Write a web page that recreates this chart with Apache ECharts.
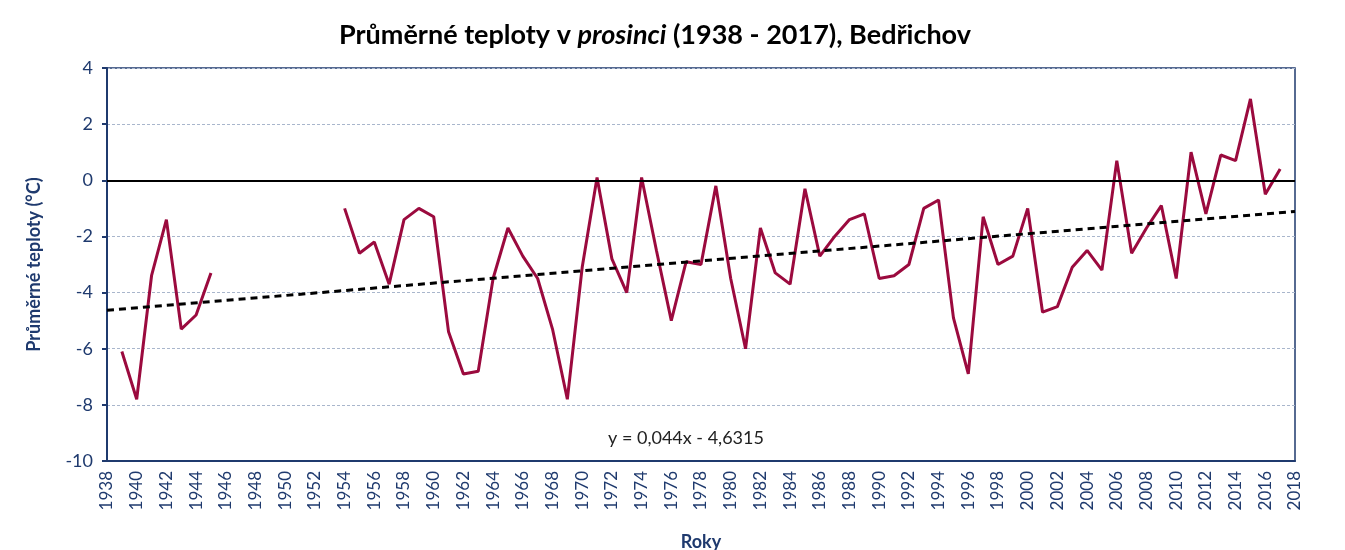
<!DOCTYPE html>
<html>
<head>
<meta charset="utf-8">
<script src="https://cdn.jsdelivr.net/npm/echarts@6/dist/echarts.min.js"></script>
<style>
  html, body { margin: 0; padding: 0; background: #fff; }
  #chart { width: 1345px; height: 550px; }
</style>
</head>
<body>
<div id="chart"></div>
<script>
// roky 1939 - 2017, mezera 1946 - 1953 (null)
const years = [];
for (let y = 1939; y <= 2017; y++) years.push(y);

const temps = [
  -6.1, -7.8, -3.4, -1.4, -5.3, -4.8, -3.3,           // 1939-1945
  null, null, null, null, null, null, null, null,     // 1946-1953
  -1.0, -2.6, -2.2, -3.7, -1.4, -1.0,                 // 1954-1959
  -1.3, -5.4, -6.9, -6.8, -3.5, -1.7, -2.7, -3.5, -5.3, -7.8, // 1960-1969
  -3.1, 0.1, -2.8, -4.0, 0.1, -2.5, -5.0, -2.9, -3.0, -0.2,   // 1970-1979
  -3.5, -6.0, -1.7, -3.3, -3.7, -0.3, -2.7, -2.0, -1.4, -1.2, // 1980-1989
  -3.5, -3.4, -3.0, -1.0, -0.7, -4.9, -6.9, -1.3, -3.0, -2.7, // 1990-1999
  -1.0, -4.7, -4.5, -3.1, -2.5, -3.2, 0.7, -2.6, -1.7, -0.9,  // 2000-2009
  -3.5, 1.0, -1.2, 0.9, 0.7, 2.9, -0.5, 0.4                   // 2010-2017
];

// lineární trend z Excelu: y = 0,044x - 4,6315 (x = rok - 1938)
const trendK = 0.044;
const trendQ = -4.6315;
const xMin = 1938, xMax = 2018;

const navy = '#1F3A6E';
const wine = '#9B0A3E';

const chart = echarts.init(document.getElementById('chart'));

chart.setOption({
  animation: false,
  textStyle: { fontFamily: 'Lato' },
  title: {
    text: '{b|Průměrné teploty v }{i|prosinci}{b| (1938 - 2017), Bedřichov}',
    left: 650,
    textAlign: 'center',
    top: 17,
    textStyle: {
      rich: {
        b: { fontSize: 27, fontWeight: 'bold', color: '#000', fontFamily: 'Lato' },
        i: { fontSize: 27, fontStyle: 'italic', color: '#000', fontFamily: 'Lato' }
      }
    }
  },
  grid: {
    left: 107,
    right: 50,
    top: 68,
    bottom: 89,
    outerBoundsMode: 'none',
    show: true,
    borderColor: navy,
    borderWidth: 1.5
  },
  xAxis: {
    type: 'value',
    min: xMin,
    max: xMax,
    interval: 2,
    name: 'Roky',
    nameLocation: 'middle',
    nameGap: 72,
    nameTextStyle: { color: navy, fontSize: 18, fontWeight: 'bold' },
    axisLine: { show: true, onZero: false, lineStyle: { color: navy, width: 2 } },
    axisTick: { show: false },
    splitLine: { show: false },
    axisLabel: {
      rotate: 90,
      color: navy,
      fontSize: 17,
      margin: 10,
      formatter: v => String(v)
    }
  },
  yAxis: {
    type: 'value',
    min: -10,
    max: 4,
    interval: 2,
    name: 'Průměrné teploty (°C)',
    nameLocation: 'middle',
    nameGap: 64,
    nameTextStyle: { color: navy, fontSize: 18, fontWeight: 'bold' },
    axisLine: { show: true, lineStyle: { color: navy, width: 2 } },
    axisTick: { show: true, inside: false, length: 5, lineStyle: { color: navy, width: 2 } },
    axisLabel: { color: navy, fontSize: 18, margin: 14 },
    splitLine: { show: true, lineStyle: { color: '#A9B6CC', type: [3, 2], width: 1 } }
  },
  series: [
    {
      name: 'teplota',
      type: 'line',
      data: years.map((y, i) => [y, temps[i]]),
      connectNulls: false,
      symbol: 'none',
      lineStyle: { color: wine, width: 3 },
      z: 3,
      markLine: {
        silent: true,
        symbol: 'none',
        label: { show: false },
        lineStyle: { color: '#000', width: 2, type: 'solid' },
        data: [{ yAxis: 0 }]
      }
    },
    {
      name: 'trend',
      type: 'line',
      data: [xMin, xMax].map(x => [x, trendK * (x - xMin) + trendQ]),
      symbol: 'none',
      lineStyle: { color: '#000', width: 3, type: [7, 5] },
      z: 4
    }
  ],
  graphic: [
    {
      type: 'text',
      left: 608,
      top: 429,
      style: {
        text: 'y = 0,044x - 4,6315',
        fill: '#222',
        font: '18px Lato'
      }
    }
  ]
});
</script>
</body>
</html>
